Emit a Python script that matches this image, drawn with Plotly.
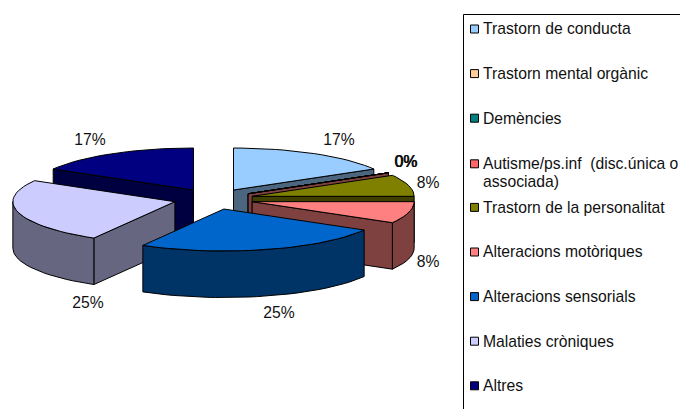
import math
import plotly.graph_objects as go

categories = ["Trastorn de conducta", "Trastorn mental orgànic", "Demències",
              "Autisme/ps.inf  (disc.única o<br>associada)", "Trastorn de la personalitat",
              "Alteracions motòriques", "Alteracions sensorials", "Malaties cròniques", "Altres"]
values = [2, 0, 0, 0, 1, 1, 3, 3, 2]
top_colors = ["#99CCFF", "#FFCC99", "#008080", "#FF8080", "#808000", "#FF8080", "#0066CC", "#CCCCFF", "#000080"]
side_colors = ["#4C667F", "#7F664C", "#004040", "#7F4040", "#404000", "#7F4040", "#003366", "#666680", "#000040"]
legend_colors = ["#99CCFF", "#FFCC99", "#008080", "#FF6666", "#808000", "#FF8080", "#0066CC", "#CCCCFF", "#000080"]

# geometry of the pseudo-3D projection (pixels)
CX, CY, RX, RY, DEPTH, EXPLODE = 213.5, 199, 162, 42, 46.5, 40
FONT = dict(family="Liberation Sans", size=15.7, color="#111111")
TEXT_DY = 1.5
total = sum(values)

fig = go.Figure()


def pt(ax, ay, deg, dz=0):
    t = math.radians(deg)
    return ax + RX * math.sin(t), ay - RY * math.cos(t) + dz


def poly(points, color):
    xs = [p[0] for p in points] + [points[0][0]]
    ys = [p[1] for p in points] + [points[0][1]]
    fig.add_trace(go.Scatter(x=xs, y=ys, mode="lines", fill="toself", fillcolor=color,
                             line=dict(color="black", width=1), hoverinfo="skip", showlegend=False))


slices = []
a = 0.0
for i, v in enumerate(values):
    b = a + 360 * v / total
    slices.append((i, a, b))
    a = b

order = [8, 0, 1, 2, 3, 4, 5, 7, 6]
for i in order:
    _, a, b = slices[i]
    m = math.radians((a + b) / 2)
    ax = CX + EXPLODE * math.sin(m)
    ay = CY - EXPLODE * math.cos(m) * RY / RX
    for deg, vis in ((a, math.sin(math.radians(a)) < -1e-6), (b, math.sin(math.radians(b)) > 1e-6)):
        if vis:
            p = pt(ax, ay, deg)
            q = pt(ax, ay, deg, DEPTH)
            poly([(ax, ay), p, q, (ax, ay + DEPTH)], side_colors[i])
    lo, hi = max(a, 90), min(b, 270)
    if hi > lo:
        n = max(2, int((hi - lo) / 3))
        degs = [lo + (hi - lo) * k / n for k in range(n + 1)]
        poly([pt(ax, ay, d) for d in degs] + [pt(ax, ay, d, DEPTH) for d in reversed(degs)], side_colors[i])
    n = max(1, int((b - a) / 3))
    degs = [a + (b - a) * k / n for k in range(n + 1)]
    poly([(ax, ay)] + [pt(ax, ay, d) for d in degs], top_colors[i])

# percentage labels
label_x = [339, 405.6, 406.4, 406, 428, 428, 279, 88, 90]
label_y = [140, 162, 162, 162, 183, 262, 313, 303, 140]
fig.add_trace(go.Scatter(x=label_x, y=[y + TEXT_DY for y in label_y], mode="text",
                         text=[f"{round(v / total * 100)}%" for v in values],
                         textposition="middle center", textfont=FONT,
                         hoverinfo="skip", showlegend=False))

# legend panel
LEG_X, LEG_TOP, LEG_STEP, LINE_H = 474.5, 29, 44.6, 18
rows = [LEG_TOP + k * LEG_STEP for k in range(len(categories))]
rows[3] += 1
fig.add_trace(go.Scatter(x=[LEG_X] * len(rows), y=rows, mode="markers",
                         marker=dict(symbol="square", size=8, color=legend_colors,
                                     line=dict(color="black", width=1)),
                         hoverinfo="skip", showlegend=False))
line_y, line_text = [], []
for r, c in zip(rows, categories):
    for k, part in enumerate(c.split("<br>")):
        line_y.append(r + k * LINE_H + TEXT_DY)
        line_text.append(part)
fig.add_trace(go.Scatter(x=[LEG_X + 8.5] * len(line_y), y=line_y, mode="text", text=line_text,
                         textposition="middle right", textfont=FONT,
                         hoverinfo="skip", showlegend=False))

fig.update_layout(
    width=680, height=409, margin=dict(l=0, r=0, t=0, b=0),
    paper_bgcolor="white", plot_bgcolor="white", showlegend=False,
    xaxis=dict(range=[0, 680], visible=False, fixedrange=True),
    yaxis=dict(range=[409, 0], visible=False, fixedrange=True),
    shapes=[dict(type="rect", xref="x", yref="y", x0=463.5, x1=700, y0=14.5, y1=430,
                 line=dict(color="black", width=1), layer="below")],
)
fig.write_html("out.html", config=dict(displayModeBar=False),
               post_script="document.body.style.margin='0';document.body.style.overflow='hidden';")
